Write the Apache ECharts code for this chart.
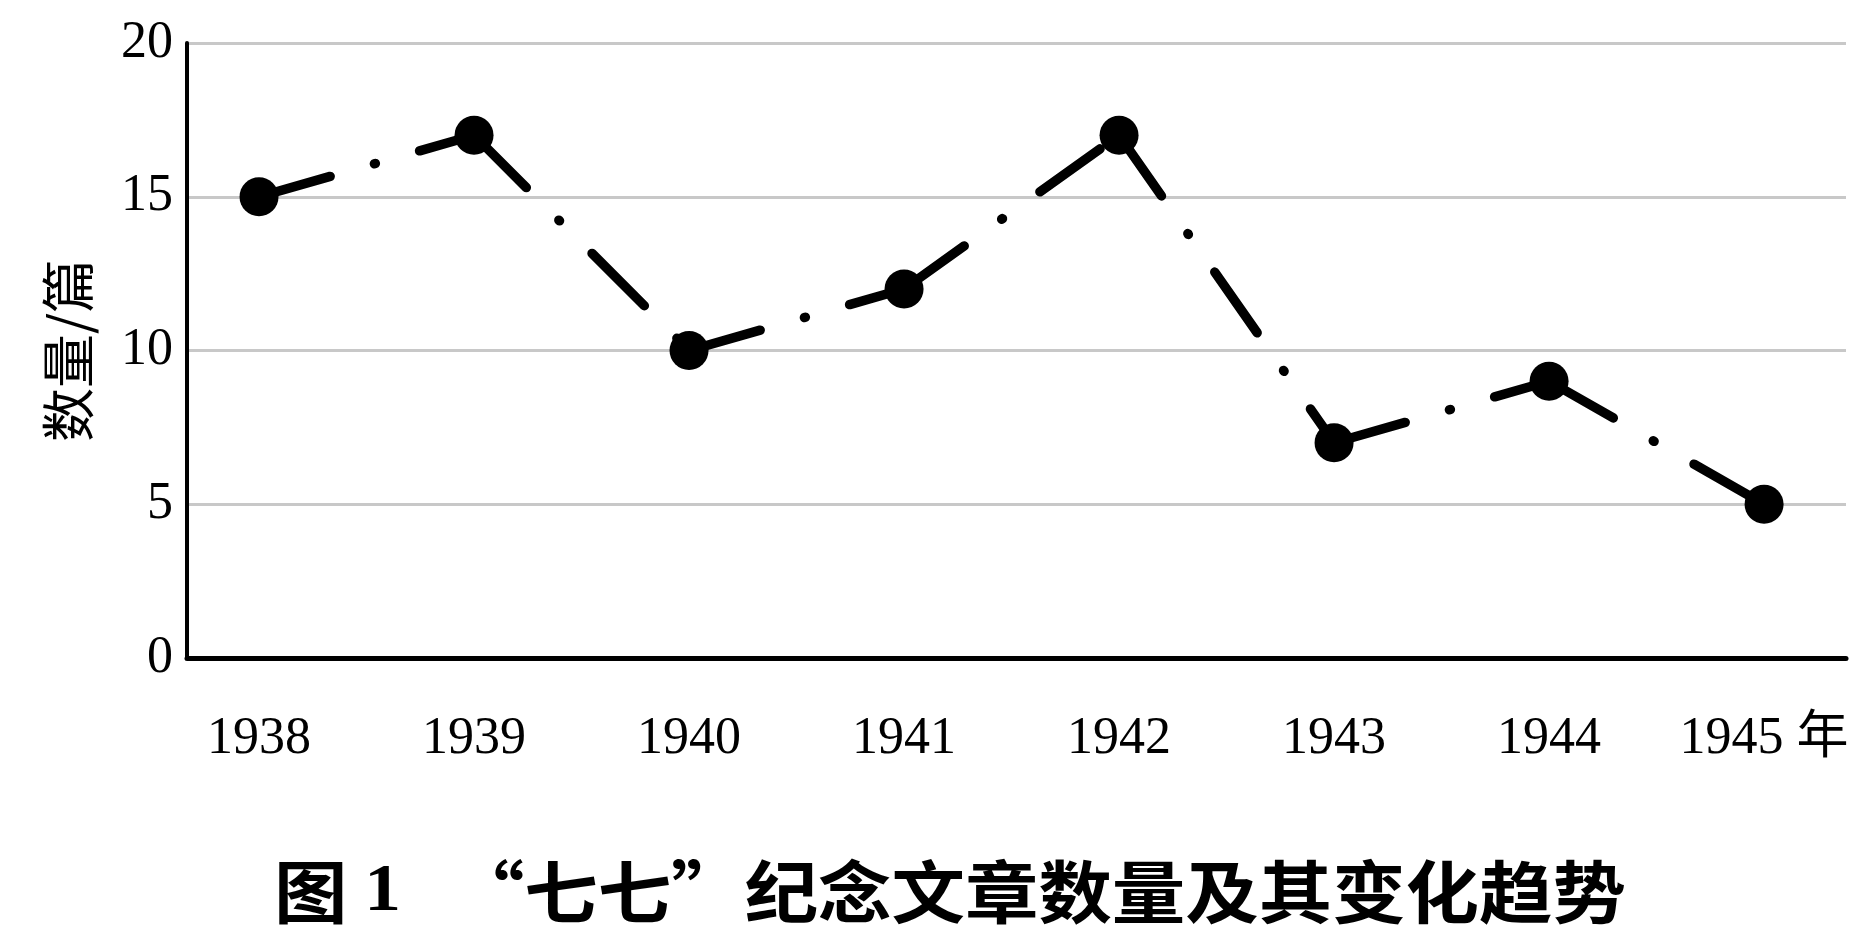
<!DOCTYPE html>
<html>
<head>
<meta charset="utf-8">
<script src="https://cdn.jsdelivr.net/npm/echarts@6/dist/echarts.min.js"></script>
<style>
html,body{margin:0;padding:0;background:#fff;}
#chart{width:1870px;height:942px;}
</style>
</head>
<body>
<div id="chart"></div>
<script>
// ---- data ----
const years = [1938, 1939, 1940, 1941, 1942, 1943, 1944, 1945];
const counts = [15, 17, 10, 12, 17, 7, 9, 5];
const xTickLabels = ['1938', '1939', '1940', '1941', '1942', '1943', '1944', '1945 年'];
const yTicks = [0, 5, 10, 15, 20];
const yAxisName = '数量/篇';
const titleHead = '图 ';
const titleNum = '1';
const titleRest = '   “七七”纪念文章数量及其变化趋势';

const serif = '"Liberation Serif", "Times New Roman", "Noto Sans CJK SC", serif';
const cjk = '"Noto Sans CJK SC", sans-serif';

// one line series per segment so the dash pattern restarts at each point
const segmentSeries = [];
for (let i = 0; i < years.length - 1; i++) {
  segmentSeries.push({
    type: 'line',
    data: [[years[i], counts[i]], [years[i + 1], counts[i + 1]]],
    symbol: 'none',
    silent: true,
    z: 2,
    lineStyle: { color: '#000', width: 9.5, type: [74, 46, 1, 46], cap: 'round', opacity: 1 }
  });
}

const chart = echarts.init(document.getElementById('chart'));
chart.setOption({
  animation: false,
  backgroundColor: '#fff',
  grid: { left: 187, right: 24, top: 43, bottom: 284, containLabel: false },
  xAxis: {
    type: 'value',
    min: 1937.665,
    max: 1945.381,
    axisLine: { show: true, lineStyle: { color: '#000', width: 5 } },
    axisTick: { show: false },
    splitLine: { show: false },
    axisLabel: {
      customValues: years,
      formatter: function (v) { return xTickLabels[years.indexOf(v)]; },
      margin: 55,
      fontSize: 52,
      fontFamily: serif,
      color: '#000'
    }
  },
  yAxis: {
    type: 'value',
    min: yTicks[0],
    max: yTicks[yTicks.length - 1],
    interval: 5,
    name: yAxisName,
    nameLocation: 'middle',
    nameRotate: 90,
    nameGap: 92,
    nameTextStyle: { fontSize: 54, fontFamily: cjk, color: '#000' },
    axisLine: { show: true, lineStyle: { color: '#000', width: 4 } },
    axisTick: { show: false },
    splitLine: { show: true, lineStyle: { color: '#c8c8c8', width: 3 } },
    axisLabel: { margin: 14, fontSize: 52, fontFamily: serif, color: '#000' }
  },
  graphic: [{
    type: 'text',
    x: 950,
    y: 892,
    scaleX: 1.08,
    style: {
      text: titleHead + '{n|' + titleNum + '}' + titleRest,
      font: 'bold 68px "Noto Sans CJK SC", sans-serif',
      rich: { n: { font: 'bold 68px "Liberation Serif", serif', fill: '#000' } },
      textAlign: 'center', align: 'center',
      textVerticalAlign: 'middle', verticalAlign: 'middle',
      fill: '#000'
    }
  }],
  series: segmentSeries.concat([{
    type: 'scatter',
    data: years.map((y, i) => [y, counts[i]]),
    symbol: 'circle',
    symbolSize: 39,
    itemStyle: { color: '#000', opacity: 1 },
    z: 3
  }])
});
</script>
</body>
</html>
